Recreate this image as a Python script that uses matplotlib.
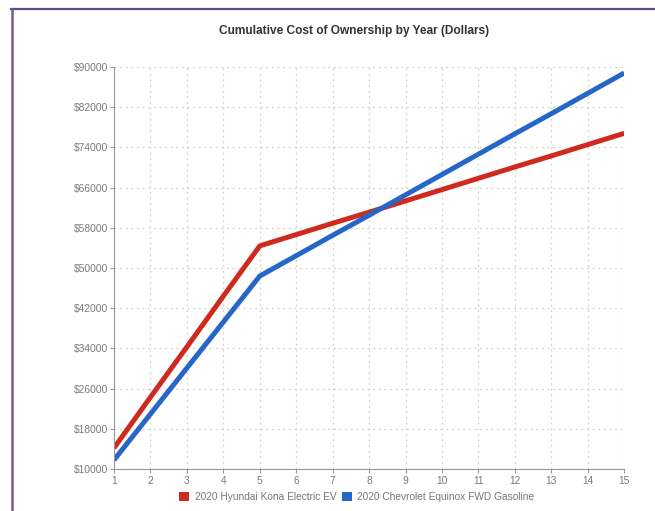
import matplotlib.pyplot as plt
from matplotlib.lines import Line2D
from matplotlib.patches import Patch
from matplotlib.ticker import FuncFormatter

years = list(range(1, 16))
kona_ev = [14200, 24300, 34300, 44400, 54400, 56650, 58900, 61100,
           63350, 65600, 67850, 70100, 72300, 74550, 76800]
equinox_gas = [11800, 20950, 30100, 39250, 48400, 52450, 56500, 60500,
               64550, 68600, 72650, 76700, 80700, 84750, 88800]
labels = ['2020 Hyundai Kona Electric EV', '2020 Chevrolet Equinox FWD Gasoline']
colors = ['#d0291f', '#2766c9']
y_ticks = list(range(10000, 90001, 8000))

plt.rcParams['font.family'] = ['Liberation Sans', 'DejaVu Sans']

fig = plt.figure(figsize=(6.55, 5.11), dpi=100)
ax = fig.add_axes([0.174, 0.082, 0.779, 0.787])

for vals, lab, c in zip([kona_ev, equinox_gas], labels, colors):
    ax.plot(years, vals, color=c, lw=3.6, solid_capstyle='butt', label=lab)

ax.set_xlim(1, 15)
ax.set_ylim(10000, 90000)
ax.set_xticks(years)
ax.set_yticks(y_ticks)
ax.yaxis.set_major_formatter(FuncFormatter(lambda v, p: f'${int(v)}'))
ax.grid(True, color='#d0d0d0', linestyle=(0, (1.5, 3)), lw=0.9)
ax.set_axisbelow(True)
for s in ['top', 'right']:
    ax.spines[s].set_visible(False)
for s in ['left', 'bottom']:
    ax.spines[s].set_color('#999999')
    ax.spines[s].set_linewidth(0.8)
ax.tick_params(axis='y', length=3, color='#999999', labelsize=7.4,
               labelcolor='#7a7a7a', pad=1)
ax.tick_params(axis='x', length=3, color='#999999', labelsize=7.4,
               labelcolor='#7a7a7a', pad=2)

fig.text(0.54, 0.94, 'Cumulative Cost of Ownership by Year (Dollars)',
         ha='center', va='center', fontsize=8.6, fontweight='bold', color='#333333')

handles = [Patch(facecolor=c, edgecolor='none') for c in colors]
fig.legend(handles, labels, loc='center', bbox_to_anchor=(0.545, 0.027),
           ncol=2, frameon=False, fontsize=7.3, labelcolor='#777777',
           handlelength=1.0, handleheight=1.0, handletextpad=0.5,
           columnspacing=0.6)

# purple frame on top and left edge
fig.add_artist(Line2D([11 / 655, 1], [1 - 9 / 511, 1 - 9 / 511],
                      color='#5f4a85', lw=1.6, transform=fig.transFigure))
fig.add_artist(Line2D([12 / 655, 12 / 655], [0, 1 - 9 / 511],
                      color='#6f5a95', lw=1.8, transform=fig.transFigure))

fig.savefig('out.png', dpi=100)
